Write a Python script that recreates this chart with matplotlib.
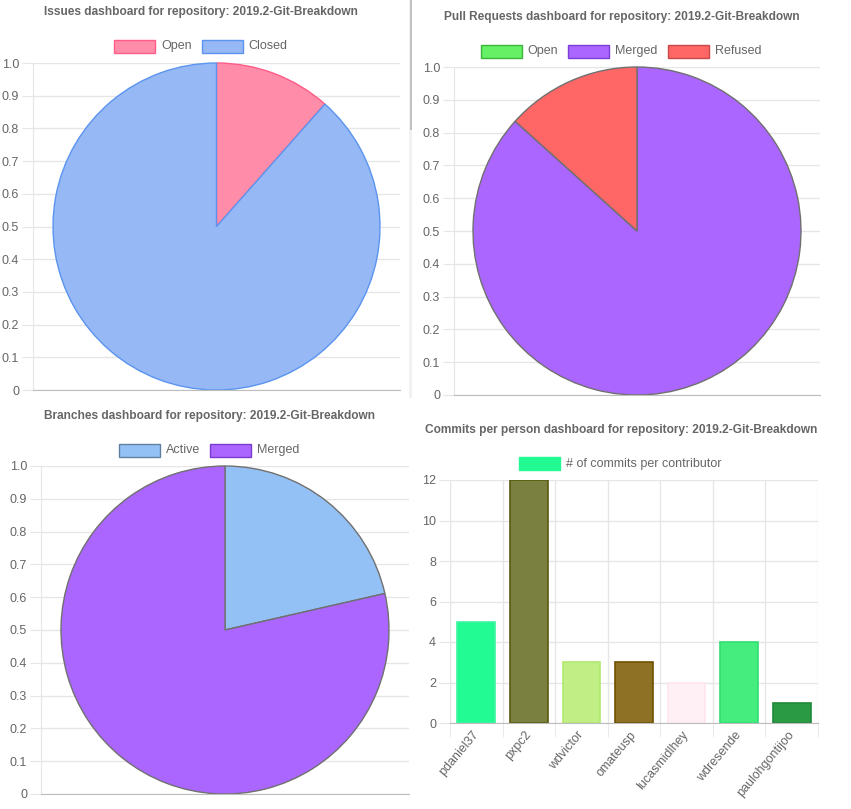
import matplotlib
matplotlib.use("Agg")
import matplotlib.pyplot as plt
from matplotlib.patches import Rectangle
from matplotlib.transforms import ScaledTranslation

W, H = 851, 809
FONT = ["Liberation Sans", "DejaVu Sans"]
GREY = "#666666"
GRID = "#E6E6E6"
ZERO = "#BDBDBD"

# data
repo = "2019.2-Git-Breakdown"

issue_labels = ["Open", "Closed"]
issue_values = [3, 23]
issue_faces = ["#FF8DAA", "#96B8F5"]
issue_edges = ["#FF5C88", "#5B94EE"]

pr_labels = ["Open", "Merged", "Refused"]
pr_values = [0, 13, 2]
pr_faces = ["#66F066", "#AA66FF", "#FF6666"]
pr_edges = ["#3CB43C", "#7B3FD6", "#C84848"]

branch_labels = ["Active", "Merged"]
branch_values = [3, 11]
branch_faces = ["#94C1F5", "#AA66FF"]
branch_edges = ["#6080A0", "#7A3CD0"]

contributors = ["pdaniel37", "pxpc2", "wdvictor", "omateusp",
                "lucasmidlhey", "wdresende", "paulohgontijoo"]
commits = [5, 12, 3, 3, 2, 4, 1]
bar_faces = ["#22FA93", "#7A8040", "#C1EF86", "#8E7124",
             "#FFF0F6", "#44ED7E", "#2A9A45"]
bar_edges = ["#3EF5A2", "#5A5A10", "#B0E870", "#6E5000",
             "#FFE6F0", "#30E070", "#1F8A38"]

plt.rcParams["font.family"] = FONT
fig = plt.figure(figsize=(W / 100, H / 100), dpi=100)
renderer = fig.canvas.get_renderer()


def px_axes(l, t, r, b):
    return fig.add_axes([l / W, 1 - b / H, (r - l) / W, (b - t) / H])


def style_axes(ax):
    for s in ["top", "right"]:
        ax.spines[s].set_visible(False)
    ax.spines["left"].set_color(GRID)
    ax.spines["bottom"].set_color(ZERO)
    ax.tick_params(axis="y", colors=GRID, labelcolor=GREY, labelsize=9,
                   length=8, pad=2)
    ax.set_axisbelow(True)


def title(cx, cy, text):
    fig.text(cx / W, 1 - cy / H, text, ha="center", va="center",
             fontsize=8.6, fontweight="bold", color=GREY)


def legend(cx, cy, labels, faces, edges):
    widths = []
    for s in labels:
        t = fig.text(0, 0, s, fontsize=9)
        widths.append(t.get_window_extent(renderer).width)
        t.remove()
    total = sum(41 + 6 + w for w in widths) + 10 * (len(labels) - 1)
    x = cx - total / 2
    for s, w, fc, ec in zip(labels, widths, faces, edges):
        fig.add_artist(Rectangle((x / W, 1 - (cy + 6.5) / H), 41 / W, 13 / H,
                                 facecolor=fc, edgecolor=ec, lw=1,
                                 transform=fig.transFigure))
        fig.text((x + 47) / W, 1 - cy / H, s, ha="left", va="center",
                 fontsize=9, color=GREY)
        x += 41 + 6 + w + 10


def pie_panel(box, labels, values, faces, edges, edge_override=None):
    l, t, r, b = box
    ax = px_axes(l, t, r, b)
    xr = (r - l) / (b - t)
    wedges, _ = ax.pie(values, colors=faces, startangle=90, counterclock=False,
                       center=(xr / 2, 0.5), radius=0.5, frame=True,
                       wedgeprops=dict(linewidth=1))
    for w, ec in zip(wedges, edge_override or edges):
        w.set_edgecolor(ec)
    ax.set_xlim(0, xr)
    ax.set_ylim(0, 1)
    ax.set_xticks([])
    ticks = [i / 10 for i in range(11)]
    ax.set_yticks(ticks)
    ax.set_yticklabels(["0"] + [f"{v:.1f}" for v in ticks[1:]])
    ax.grid(axis="y", color=GRID, lw=1)
    style_axes(ax)
    return ax


# issues
title(201, 12, f"Issues dashboard for repository: {repo}")
legend(201, 46, issue_labels, issue_faces, issue_edges)
pie_panel((33, 63, 400, 390), issue_labels, issue_values, issue_faces,
          issue_edges)

# pull requests
title(622, 17, f"Pull Requests dashboard for repository: {repo}")
legend(621, 51, pr_labels, pr_faces, pr_edges)
pie_panel((454, 67, 820, 395), pr_labels, pr_values, pr_faces, pr_edges,
          edge_override=["#707070"] * 3)

# branches
title(209, 416, f"Branches dashboard for repository: {repo}")
legend(209, 450, branch_labels, branch_faces, branch_edges)
pie_panel((41, 466, 409, 794), branch_labels, branch_values, branch_faces,
          branch_edges, edge_override=["#707070"] * 2)

# commits
title(621, 430, f"Commits per person dashboard for repository: {repo}")
legend(620, 464, ["# of commits per contributor"], [bar_faces[0]], [bar_faces[0]])
ax = px_axes(450, 480, 818, 723)
n = len(contributors)
xs = list(range(n))
ax.bar(xs, commits, width=0.72, color=bar_faces, edgecolor=bar_edges, lw=1.2)
ax.set_xlim(-0.5, n - 0.5)
ax.set_ylim(0, 12)
ax.set_yticks(range(0, 13, 2))
ax.set_xticks(xs)
ax.set_xticklabels(contributors, rotation=50, ha="right", va="center",
                   rotation_mode="anchor", fontsize=9, color=GREY)
shift = ScaledTranslation(3 / 100, 0, fig.dpi_scale_trans)
for lab in ax.get_xticklabels():
    lab.set_transform(lab.get_transform() + shift)
ax.set_xticks([i - 0.5 for i in range(n + 1)], minor=True)
ax.tick_params(axis="x", which="major", length=0, pad=7)
ax.tick_params(axis="x", which="minor", length=10, color=GRID)
ax.grid(axis="y", color=GRID, lw=1)
ax.grid(axis="x", which="minor", color=GRID, lw=1)
style_axes(ax)

# scrollbar strip between the top panels
fig.add_artist(Rectangle((409 / W, 1 - 398 / H), 3 / W, 398 / H,
                         facecolor="#F1F1F1", lw=0, transform=fig.transFigure))
fig.add_artist(Rectangle((410 / W, 1 - 130 / H), 2 / W, 130 / H,
                         facecolor="#C1C1C1", lw=0, transform=fig.transFigure))

fig.savefig("out.png", dpi=100)
